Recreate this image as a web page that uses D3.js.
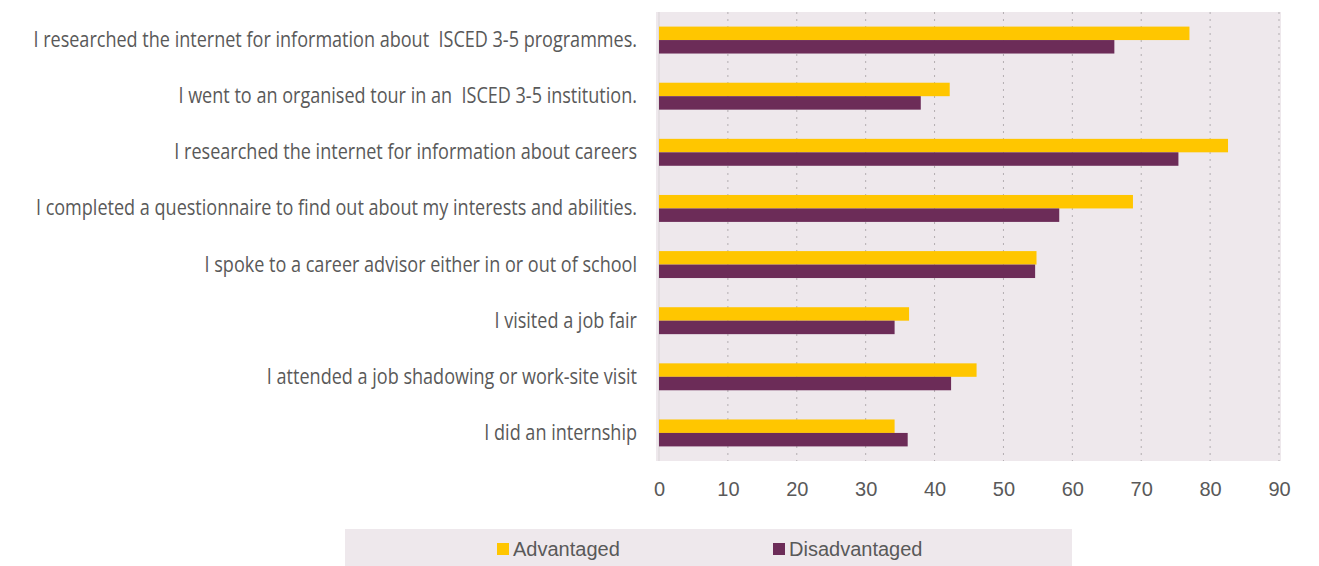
<!DOCTYPE html>
<html>
<head>
<meta charset="utf-8">
<script src="https://cdn.jsdelivr.net/npm/d3@7"></script>
<style>
  html, body { margin: 0; padding: 0; background: #ffffff; }
  svg { display: block; }
  .cat-label { white-space: pre; }
</style>
</head>
<body>
<svg id="chart" width="1319" height="566"></svg>
<script>
// Career-exploration activities by socio-economic group (%)
const categories = [
  "I researched the internet for information about  ISCED 3-5 programmes.",
  "I went to an organised tour in an  ISCED 3-5 institution.",
  "I researched the internet for information about careers",
  "I completed a questionnaire to find out about my interests and abilities.",
  "I spoke to a career advisor either in or out of school",
  "I visited a job fair",
  "I attended a job shadowing or work-site visit",
  "I did an internship"
];
const advantaged    = [77.0, 42.2, 82.6, 68.8, 54.8, 36.3, 46.1, 34.2];
const disadvantaged = [66.1, 38.0, 75.4, 58.1, 54.6, 34.2, 42.4, 36.1];
const seriesNames = ["Advantaged", "Disadvantaged"];
const xTicks = [0, 10, 20, 30, 40, 50, 60, 70, 80, 90];

const colors = { Advantaged: "#FFC600", Disadvantaged: "#6C2C58" };
const panelBg = "#EEE8EC";
const textColor = "#595959";

const svg = d3.select("#chart");

const x = d3.scaleLinear().domain([0, 90]).range([659, 1279]);
const y = d3.scaleBand().domain(categories).range([12, 461])
  .paddingInner(0.52).paddingOuter(0.26);
const ySub = d3.scaleBand().domain(seriesNames).range([0, y.bandwidth()]);

// plot panel
svg.append("rect")
  .attr("x", x(0) - 3).attr("y", 12)
  .attr("width", x(90) - x(0) + 5).attr("height", 449)
  .attr("fill", panelBg);

// dashed vertical gridlines
svg.append("g").selectAll("line")
  .data(xTicks.filter(d => d > 0))
  .join("line")
  .attr("x1", d => x(d)).attr("x2", d => x(d))
  .attr("y1", 12).attr("y2", 461)
  .attr("stroke", "#b3aeb1")
  .attr("stroke-width", 1)
  .attr("stroke-dasharray", "2,5");

// category axis line
svg.append("line")
  .attr("x1", x(0)).attr("x2", x(0))
  .attr("y1", 12).attr("y2", 461)
  .attr("stroke", "#d9d4d7").attr("stroke-width", 1);

// bars
const rows = categories.map((c, i) => ({
  cat: c,
  values: [
    { key: "Advantaged", value: advantaged[i] },
    { key: "Disadvantaged", value: disadvantaged[i] }
  ]
}));

const groups = svg.append("g").selectAll("g")
  .data(rows).join("g")
  .attr("transform", d => `translate(0,${y(d.cat)})`);

groups.selectAll("rect")
  .data(d => d.values).join("rect")
  .attr("x", x(0))
  .attr("y", d => ySub(d.key))
  .attr("width", d => x(d.value) - x(0))
  .attr("height", ySub.bandwidth())
  .attr("fill", d => colors[d.key]);

// category labels (condensed look)
const labels = svg.append("g").selectAll("text")
  .data(categories).join("text")
  .attr("class", "cat-label")
  .attr("xml:space", "preserve")
  .attr("text-anchor", "end")
  .attr("font-family", "'Open Sans', 'Noto Sans', sans-serif")
  .attr("font-size", 22)
  .attr("fill", textColor)
  .text(d => d);

// compress horizontally so the longest label spans ~604px
let maxW = 0;
labels.each(function () { maxW = Math.max(maxW, this.getComputedTextLength()); });
const k = 604 / maxW;
labels.attr("transform", d => `translate(637,${y(d) + y.bandwidth() / 2 + 7}) scale(${k},1)`)
  .attr("x", 0).attr("y", 0);

// x axis tick labels
const xAxis = d3.axisBottom(x).tickValues(xTicks).tickSize(0).tickPadding(0);
const xg = svg.append("g").attr("transform", "translate(0,482)").call(xAxis);
xg.select(".domain").remove();
xg.selectAll("text")
  .attr("font-family", "'Liberation Sans', Arial, sans-serif")
  .attr("font-size", 20)
  .attr("fill", textColor)
  .attr("dy", "0.71em");

// legend
svg.append("rect")
  .attr("x", 345).attr("y", 529).attr("width", 727).attr("height", 37)
  .attr("fill", panelBg);

const legendPos = { Advantaged: 497, Disadvantaged: 773 };
const leg = svg.append("g").selectAll("g")
  .data(seriesNames).join("g")
  .attr("transform", d => `translate(${legendPos[d]},543)`);
leg.append("rect")
  .attr("width", 12).attr("height", 12)
  .attr("fill", d => colors[d]);
leg.append("text")
  .attr("x", 16).attr("y", 13)
  .attr("font-family", "'Liberation Sans Narrow', 'Liberation Sans', Arial, sans-serif")
  .attr("font-size", 20)
  .attr("fill", textColor)
  .attr("letter-spacing", 0)
  .text(d => d);
</script>
</body>
</html>
